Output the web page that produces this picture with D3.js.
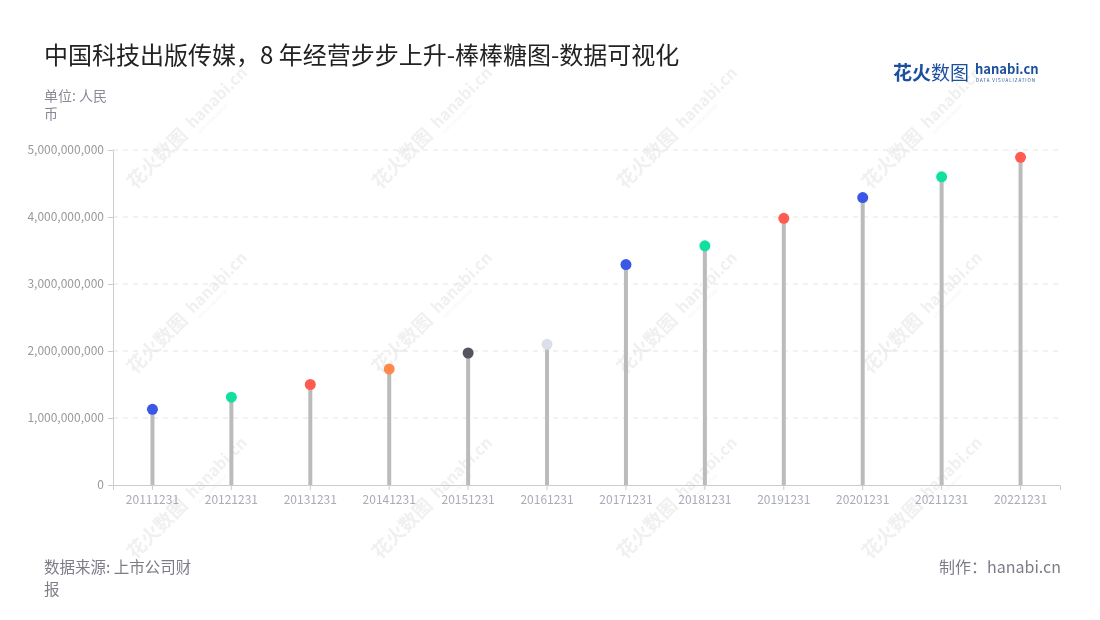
<!DOCTYPE html>
<html><head><meta charset="utf-8">
<script src="https://cdn.jsdelivr.net/npm/d3@7"></script>
<style>body{margin:0;background:#fff;font-family:"Noto Sans CJK SC","Noto Sans",sans-serif;}</style>
</head><body><svg id="c" width="1100" height="620"></svg>
<script>
const categories = ["20111231","20121231","20131231","20141231","20151231","20161231","20171231","20181231","20191231","20201231","20211231","20221231"];
const values = [1.13e9,1.31e9,1.50e9,1.73e9,1.97e9,2.10e9,3.29e9,3.57e9,3.98e9,4.29e9,4.60e9,4.89e9];
const dotColors = ["#3a57e8","#12e0a0","#ff5b50","#ff8a4c","#55545f","#dcdfea","#3a57e8","#12e0a0","#ff5b50","#3a57e8","#12e0a0","#ff5b50"];
const yTicks = [0,1e9,2e9,3e9,4e9,5e9];

const svg = d3.select("#c");
const font = '"Noto Sans CJK SC","Noto Sans",sans-serif';
const L=113, R=1060, T=150, B=485;

// watermarks
const wm = svg.append("g").attr("opacity",0.08);
for (let r=0;r<3;r++) for (let c=0;c<4;c++){
  const x=135+c*245, y=190+r*185;
  const g=wm.append("g").attr("transform",`translate(${x},${y}) rotate(-45)`);
  g.append("text").attr("x",0).attr("y",0).attr("font-size",19).attr("font-weight","bold").attr("fill","#444").attr("font-family",font).text("花火数图");
  g.append("text").attr("x",84).attr("y",-2).attr("font-size",16).attr("font-weight","bold").attr("fill","#444").attr("font-family",font).text("hanabi.cn");
  g.append("text").attr("x",86).attr("y",6).attr("font-size",4).attr("fill","#444").attr("font-family",font).text("DATA VISUALIZATION");
}

const x = d3.scaleBand().domain(categories).range([L,R]).padding(0);
const y = d3.scaleLinear().domain([0,5e9]).range([B,T]);

// grid
svg.append("g").selectAll("line").data(yTicks.slice(1)).join("line")
  .attr("x1",L).attr("x2",R).attr("y1",d=>y(d)).attr("y2",d=>y(d))
  .attr("stroke","#e3e3e3").attr("stroke-dasharray","5,5");

// y axis
const ya = svg.append("g").attr("transform",`translate(${L},0)`)
  .call(d3.axisLeft(y).tickValues(yTicks).tickSize(5).tickPadding(4).tickFormat(d3.format(",")));
ya.select(".domain").attr("stroke","#ccc");
ya.selectAll(".tick line").attr("stroke","#ccc");
ya.selectAll("text").attr("fill","#999").attr("font-size",12).attr("font-family",font);

// x axis
const xa = svg.append("g").attr("transform",`translate(0,${B})`)
  .call(d3.axisBottom(x).tickSize(5).tickPadding(5));
xa.select(".domain").attr("stroke","#ccc");
xa.selectAll(".tick line").attr("stroke","#ccc");
xa.selectAll("text").attr("fill","#a8abb8").attr("font-size",12).attr("font-family",font);

// stems
svg.append("g").selectAll("line").data(values).join("line")
  .attr("x1",(d,i)=>x(categories[i])+x.bandwidth()/2).attr("x2",(d,i)=>x(categories[i])+x.bandwidth()/2)
  .attr("y1",y(0)).attr("y2",d=>y(d)).attr("stroke","#bbbbbb").attr("stroke-width",4);
// dots
svg.append("g").selectAll("circle").data(values).join("circle")
  .attr("cx",(d,i)=>x(categories[i])+x.bandwidth()/2).attr("cy",d=>y(d)).attr("r",5.5)
  .attr("fill",(d,i)=>dotColors[i]);

// title
svg.append("text").attr("x",44).attr("y",64).attr("font-size",24).attr("fill","#222").attr("font-family",font)
  .text("中国科技出版传媒，8 年经营步步上升-棒棒糖图-数据可视化");
// unit
svg.append("text").attr("x",44).attr("y",101).attr("font-size",14).attr("fill","#8a8a96").attr("font-family",font).text("单位: 人民");
svg.append("text").attr("x",44).attr("y",119).attr("font-size",14).attr("fill","#8a8a96").attr("font-family",font).text("币");
// footer
svg.append("text").attr("x",44).attr("y",573).attr("font-size",15.5).attr("fill","#7d7d88").attr("font-family",font).text("数据来源: 上市公司财");
svg.append("text").attr("x",44).attr("y",595).attr("font-size",15.5).attr("fill","#7d7d88").attr("font-family",font).text("报");
svg.append("text").attr("x",1061).attr("y",573).attr("text-anchor","end").attr("font-size",16).attr("fill","#7d7d88").attr("font-family",font).text("制作：hanabi.cn");

// logo
svg.append("text").attr("x",893).attr("y",80).attr("font-size",19).attr("font-weight","bold").attr("fill","#1d4f9f").attr("font-family",font).text("花火");
svg.append("text").attr("x",931).attr("y",80).attr("font-size",19).attr("fill","#1d4f9f").attr("font-family",font).text("数图");
svg.append("text").attr("x",975).attr("y",74).attr("font-size",13).attr("font-weight","bold").attr("fill","#1d4f9f").attr("font-family",font).text("hanabi.cn");
svg.append("text").attr("x",976).attr("y",82).attr("font-size",4.5).attr("letter-spacing",0.9).attr("fill","#1d4f9f").attr("font-family",font).text("DATA VISUALIZATION");
</script></body></html>
